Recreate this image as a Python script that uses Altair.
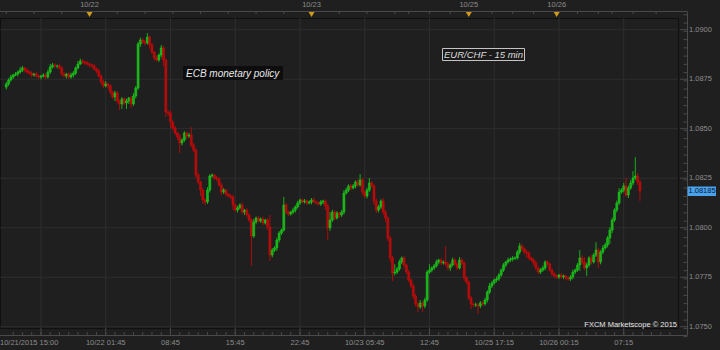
import altair as alt
import pandas as pd

# ---- data (EUR/CHF 15-min closes) ----
first_open = 1.08710
closes = [
    1.08726, 1.08746, 1.08761, 1.08771, 1.08776, 1.08786, 1.08796, 1.08807, 1.08796, 1.08786,
    1.08781, 1.08771, 1.08776, 1.08766, 1.08761, 1.08766, 1.08771, 1.08761, 1.08786, 1.08812,
    1.08822, 1.08817, 1.08817, 1.08807, 1.08776, 1.08766, 1.08776, 1.08761, 1.08771, 1.08781,
    1.08807, 1.08827, 1.08842, 1.08837, 1.08832, 1.08827, 1.08822, 1.08817, 1.08802, 1.08791,
    1.08766, 1.08736, 1.08716, 1.08726, 1.08716, 1.08685, 1.08660, 1.08680, 1.08640, 1.08625,
    1.08650, 1.08630, 1.08640, 1.08655, 1.08625, 1.08665, 1.08706, 1.08928, 1.08948, 1.08938,
    1.08933, 1.08963, 1.08923, 1.08887, 1.08857, 1.08847, 1.08872, 1.08908, 1.08847, 1.08584,
    1.08579, 1.08534, 1.08504, 1.08478, 1.08458, 1.08428, 1.08443, 1.08478, 1.08463, 1.08468,
    1.08418, 1.08392, 1.08266, 1.08231, 1.08190, 1.08140, 1.08130, 1.08190, 1.08261, 1.08266,
    1.08251, 1.08246, 1.08216, 1.08180, 1.08190, 1.08170, 1.08160, 1.08155, 1.08115, 1.08089,
    1.08100, 1.08115, 1.08079, 1.08089, 1.08064, 1.08039, 1.07958, 1.08029, 1.08049, 1.08034,
    1.08044, 1.08024, 1.08039, 1.08004, 1.07862, 1.07887, 1.07898, 1.07938, 1.07973, 1.07988,
    1.08115, 1.08079, 1.08069, 1.08079, 1.08089, 1.08105, 1.08125, 1.08140, 1.08130, 1.08135,
    1.08125, 1.08130, 1.08140, 1.08130, 1.08125, 1.08120, 1.08130, 1.08135, 1.08110, 1.07999,
    1.08039, 1.08079, 1.08049, 1.08074, 1.08064, 1.08079, 1.08175, 1.08190, 1.08211, 1.08201,
    1.08211, 1.08231, 1.08216, 1.08241, 1.08180, 1.08160, 1.08190, 1.08226, 1.08211, 1.08135,
    1.08089, 1.08105, 1.08135, 1.08079, 1.08049, 1.07948, 1.07847, 1.07771, 1.07776, 1.07792,
    1.07827, 1.07847, 1.07812, 1.07776, 1.07736, 1.07706, 1.07655, 1.07615, 1.07600, 1.07620,
    1.07605, 1.07635, 1.07776, 1.07786, 1.07797, 1.07807, 1.07827, 1.07837, 1.07822, 1.07827,
    1.07817, 1.07797, 1.07812, 1.07837, 1.07817, 1.07797, 1.07837, 1.07822, 1.07746, 1.07726,
    1.07645, 1.07615, 1.07610, 1.07610, 1.07605, 1.07620, 1.07615, 1.07635, 1.07675, 1.07706,
    1.07721, 1.07736, 1.07741, 1.07761, 1.07786, 1.07812, 1.07827, 1.07837, 1.07842, 1.07847,
    1.07847, 1.07877, 1.07908, 1.07893, 1.07877, 1.07872, 1.07847, 1.07837, 1.07822, 1.07797,
    1.07776, 1.07786, 1.07797, 1.07827, 1.07817, 1.07786, 1.07766, 1.07756, 1.07751, 1.07761,
    1.07751, 1.07756, 1.07746, 1.07741, 1.07751, 1.07776, 1.07786, 1.07812, 1.07847, 1.07827,
    1.07797, 1.07812, 1.07847, 1.07827, 1.07862, 1.07887, 1.07827, 1.07877, 1.07898, 1.07913,
    1.07948, 1.07988, 1.08039, 1.08089, 1.08125, 1.08180, 1.08190, 1.08211, 1.08165, 1.08201,
    1.08226, 1.08251, 1.08261, 1.08231, 1.08185,
]
# wick lengths beyond the body, in 1/100000 (pipettes)
upper_wick = [
    10, 8, 12, 6, 10, 8, 15, 10, 6, 8,
    8, 10, 6, 12, 8, 6, 10, 8, 12, 15,
    10, 8, 6, 12, 8, 10, 6, 8, 12, 10,
    8, 15, 12, 8, 6, 10, 8, 6, 10, 8,
    12, 8, 10, 15, 8, 10, 6, 12, 10, 8,
    10, 8, 12, 6, 10, 15, 10, 10, 12, 8,
    10, 20, 8, 10, 6, 12, 8, 15, 10, 8,
    10, 12, 8, 10, 6, 15, 8, 10, 6, 12,
    40, 10, 8, 12, 6, 10, 8, 15, 10, 8,
    6, 10, 8, 12, 10, 8, 6, 10, 12, 8,
    10, 8, 12, 6, 10, 8, 10, 15, 8, 10,
    8, 12, 6, 10, 60, 10, 8, 12, 10, 8,
    40, 10, 8, 6, 12, 8, 10, 6, 8, 10,
    6, 8, 10, 12, 6, 8, 10, 6, 8, 10,
    40, 12, 8, 10, 6, 10, 15, 12, 8, 10,
    10, 8, 12, 30, 10, 8, 12, 25, 10, 8,
    12, 10, 8, 15, 10, 8, 12, 10, 40, 10,
    12, 8, 10, 6, 10, 8, 12, 10, 8, 15,
    8, 12, 10, 30, 8, 10, 12, 6, 10, 8,
    80, 10, 8, 12, 10, 8, 15, 10, 8, 10,
    8, 10, 6, 12, 8, 10, 8, 12, 10, 15,
    10, 8, 12, 10, 8, 10, 6, 12, 8, 10,
    8, 10, 15, 10, 8, 12, 10, 8, 10, 12,
    8, 10, 12, 8, 10, 6, 8, 10, 8, 6,
    10, 8, 6, 8, 10, 12, 8, 10, 40, 12,
    25, 12, 10, 15, 10, 40, 12, 10, 15, 12,
    10, 15, 12, 10, 12, 20, 10, 15, 40, 12,
    15, 35, 95, 15, 10,
]
lower_wick = [
    12, 10, 8, 10, 6, 12, 8, 10, 12, 8,
    10, 12, 8, 6, 10, 12, 8, 10, 8, 10,
    8, 10, 12, 8, 10, 6, 12, 10, 8, 12,
    10, 8, 6, 12, 10, 8, 12, 10, 8, 10,
    8, 12, 10, 8, 15, 12, 10, 20, 12, 30,
    25, 12, 30, 15, 20, 10, 12, 10, 15, 10,
    12, 8, 20, 10, 12, 8, 10, 12, 30, 25,
    15, 30, 12, 10, 15, 50, 12, 10, 15, 10,
    12, 10, 15, 12, 30, 20, 15, 10, 12, 8,
    10, 12, 8, 15, 10, 12, 8, 10, 25, 10,
    12, 8, 10, 15, 10, 12, 150, 10, 12, 8,
    10, 12, 8, 15, 30, 12, 10, 15, 12, 10,
    8, 12, 10, 8, 10, 12, 8, 10, 6, 8,
    10, 8, 12, 6, 10, 8, 10, 12, 20, 60,
    15, 10, 12, 8, 15, 10, 12, 8, 10, 12,
    8, 12, 10, 8, 15, 10, 12, 10, 8, 20,
    15, 12, 10, 15, 20, 15, 20, 40, 12, 10,
    10, 12, 15, 10, 12, 10, 15, 12, 25, 10,
    30, 12, 10, 8, 12, 10, 8, 12, 10, 8,
    10, 12, 15, 8, 10, 12, 8, 10, 15, 12,
    10, 25, 12, 10, 40, 12, 10, 8, 12, 10,
    10, 8, 12, 10, 8, 10, 12, 8, 10, 12,
    10, 8, 12, 10, 12, 25, 10, 8, 12, 10,
    12, 10, 8, 12, 10, 8, 10, 12, 8, 10,
    8, 10, 12, 8, 10, 12, 10, 8, 30, 12,
    12, 40, 10, 12, 8, 10, 30, 12, 10, 8,
    12, 30, 15, 10, 12, 10, 8, 12, 10, 15,
    10, 12, 10, 15, 50,
]

grid_idx = [15, 43, 71, 99, 127, 155, 183, 211, 239, 267]
grid_labels = ["10/21/2015 15:00", "10/22 01:45", "08:45", "15:45", "22:45",
               "10/23 05:45", "12:45", "10/25 17:15", "10/26 00:15", "07:15"]
day_idx = [36, 132, 200, 238]
day_labels = ["10/22", "10/23", "10/25", "10/26"]
price_ticks = [1.0750, 1.0775, 1.0800, 1.0825, 1.0850, 1.0875, 1.0900]
top_tick_idx = [0, 12, 24, 48, 60, 72, 84, 96, 108, 120, 144, 156, 168, 174, 183,
                192, 210, 219, 228, 247, 256, 262, 271, 281]
last_price = 1.08185

# ---- build table ----
n = min(len(closes), len(upper_wick), len(lower_wick))
opens = [first_open] + closes[:-1]
rows = []
for i in range(n):
    o, c = opens[i], closes[i]
    rows.append(dict(i=i, open=o, close=c,
                     high=max(o, c) + upper_wick[i] / 1e5,
                     low=min(o, c) - lower_wick[i] / 1e5,
                     dir="up" if c >= o else "down"))
df = pd.DataFrame(rows)

BG = "#1f1f1f"
GRID = "#2e2e2e"
AX = "#4a4a4a"
LBL = "#8c8c8c"
FONT = "Liberation Sans"
FS = 7.5

xs = alt.Scale(domain=[-0.55, 288.3], nice=False, zero=False)
ys = alt.Scale(domain=[1.074936, 1.090591], nice=False, zero=False)
body_cs = alt.Scale(domain=["up", "down"], range=["#1ed21e", "#d20a0a"])
wick_cs = alt.Scale(domain=["up", "down"], range=["#19b019", "#b00c0c"])

def X(f):
    return alt.X(f, scale=xs, axis=None)

def Y(f):
    return alt.Y(f, scale=ys, axis=None)

one = pd.DataFrame({"a": [0]})

# grid lines
vgrid = alt.Chart(pd.DataFrame({"i": grid_idx})).mark_rule(color=GRID, strokeWidth=1).encode(
    x=X("i:Q"), y=alt.value(0), y2=alt.value(310))
hgrid = alt.Chart(pd.DataFrame({"p": price_ticks})).mark_rule(color=GRID, strokeWidth=1).encode(
    y=Y("p:Q"), x=alt.value(0), x2=alt.value(678))

base = alt.Chart(df)
wicks = base.mark_rule(strokeWidth=1).encode(
    x=X("i:Q"), y=Y("low:Q"), y2="high:Q",
    color=alt.Color("dir:N", scale=wick_cs, legend=None),
)
bodies = base.mark_bar(size=2, strokeWidth=0.5).encode(
    x=X("i:Q"), y=Y("open:Q"), y2="close:Q",
    color=alt.Color("dir:N", scale=body_cs, legend=None),
    stroke=alt.Stroke("dir:N", scale=body_cs, legend=None),
)

def hline(x1, x2, y, color=AX):
    return alt.Chart(one).mark_rule(color=color, strokeWidth=1).encode(
        x=alt.value(x1), x2=alt.value(x2), y=alt.value(y))

def vline(x, y1, y2, color=AX):
    return alt.Chart(one).mark_rule(color=color, strokeWidth=1).encode(
        x=alt.value(x), y=alt.value(y1), y2=alt.value(y2))

top_line = hline(0, 687, -6.5)
bot_line = hline(0, 687, 317.5)
right_line = vline(687.5, -6.5, 317.5)

minor_idx = list(range(3, 289, 4))
bt_minor = alt.Chart(pd.DataFrame({"i": minor_idx})).mark_rule(color=AX).encode(
    x=X("i:Q"), y=alt.value(314), y2=alt.value(317.5))
bt_major = alt.Chart(pd.DataFrame({"i": grid_idx})).mark_rule(color=AX).encode(
    x=X("i:Q"), y=alt.value(310), y2=alt.value(317.5))
tt = alt.Chart(pd.DataFrame({"i": top_tick_idx})).mark_rule(color=AX).encode(
    x=X("i:Q"), y=alt.value(-6.5), y2=alt.value(-4))

step = 0.0025 / 6
rticks = [round(1.0745 + k * step, 6) for k in range(0, 40) if 1.0745 + k * step <= 1.0910]
rt_minor = alt.Chart(pd.DataFrame({"p": rticks})).mark_rule(color=AX).encode(
    y=Y("p:Q"), x=alt.value(683.5), x2=alt.value(687.5))
rt_major = alt.Chart(pd.DataFrame({"p": price_ticks})).mark_rule(color=AX).encode(
    y=Y("p:Q"), x=alt.value(680), x2=alt.value(687.5))

# price labels on the right
ylabels = alt.Chart(pd.DataFrame({"p": price_ticks})).mark_text(
    font=FONT, fontSize=FS, color=LBL, align="left", baseline="middle").encode(
    y=Y("p:Q"), x=alt.value(689), text=alt.Text("p:Q", format=".4f"))

# bottom labels
bl_df = pd.DataFrame({"i": grid_idx[1:], "t": grid_labels[1:]})
bot_labels = alt.Chart(bl_df).mark_text(font=FONT, fontSize=FS, color=LBL, baseline="middle",
                                        align="center").encode(
    x=X("i:Q"), y=alt.value(325), text="t:N")
first_label = alt.Chart(pd.DataFrame({"t": [grid_labels[0]]})).mark_text(
    font=FONT, fontSize=FS, color=LBL, baseline="middle", align="left").encode(
    x=alt.value(0), y=alt.value(325), text="t:N")

dd = pd.DataFrame({"i": day_idx, "t": day_labels})
day_text = alt.Chart(dd).mark_text(font=FONT, fontSize=FS, color=LBL, baseline="middle",
                                   align="center").encode(
    x=X("i:Q"), y=alt.value(-13), text="t:N")
day_tri = alt.Chart(dd).mark_point(shape="triangle-down", filled=True, size=36,
                                   color="#d09a1c", opacity=1).encode(
    x=X("i:Q"), y=alt.value(-3.5))

ecb_box = alt.Chart(one).mark_rect(color="#0d0d0d").encode(
    x=alt.value(183), x2=alt.value(283), y=alt.value(48), y2=alt.value(62))
ecb_txt = alt.Chart(pd.DataFrame({"t": ["ECB monetary policy"]})).mark_text(
    font=FONT, fontSize=10, fontStyle="italic", color="#e8e8e8", align="left",
    baseline="middle").encode(x=alt.value(186), y=alt.value(55.5), text="t:N")

eur_box = alt.Chart(one).mark_rect(fill="#1a1a1a", stroke="#c4c4c4", strokeWidth=1).encode(
    x=alt.value(442.5), x2=alt.value(524.5), y=alt.value(30.5), y2=alt.value(42.5))
eur_txt = alt.Chart(pd.DataFrame({"t": ["EUR/CHF - 15 min"]})).mark_text(
    font=FONT, fontSize=9.5, fontStyle="italic", color="#dcdcdc", align="center",
    baseline="middle").encode(x=alt.value(483.5), y=alt.value(36.5), text="t:N")

fxcm = alt.Chart(pd.DataFrame({"t": ["FXCM Marketscope © 2015"]})).mark_text(
    font=FONT, fontSize=FS, color="#e6e6e6", align="right", baseline="middle").encode(
    x=alt.value(677), y=alt.value(306.5), text="t:N")

lp = pd.DataFrame({"p": [last_price]})
price_box = alt.Chart(lp).mark_rect(color="#49a2ee").encode(
    x=alt.value(687.5), x2=alt.value(716), y=alt.value(168.5), y2=alt.value(178))
price_txt = alt.Chart(lp).mark_text(font=FONT, fontSize=FS, color="#0c1830", align="left",
                                    baseline="middle").encode(
    x=alt.value(688.5), y=Y("p:Q"), text=alt.Text("p:Q", format=".5f"))

chart = alt.layer(
    vgrid, hgrid, wicks, bodies,
    ecb_box, ecb_txt, eur_box, eur_txt, fxcm,
    top_line, bot_line, right_line, bt_minor, bt_major, tt, rt_minor, rt_major,
    ylabels, bot_labels, first_label, day_text, day_tri, price_box, price_txt,
).properties(
    width=678, height=310,
    padding={"left": 0, "top": 18, "right": 42, "bottom": 22},
    autosize=alt.AutoSizeParams(type="none"),
    background=BG,
).configure_view(stroke="#0f0f0f", strokeWidth=1, fill=BG)

chart.save("out.html", embed_options={"renderer": "svg", "actions": False})
